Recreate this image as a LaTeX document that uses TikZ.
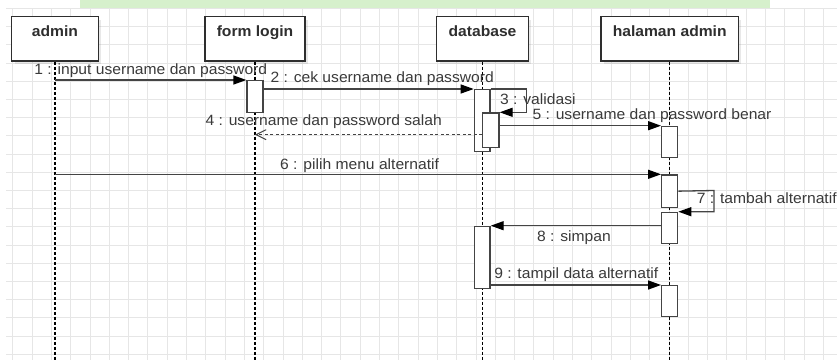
\documentclass[tikz,border=0pt]{standalone}
\usepackage{fontspec}
\setmainfont[FakeStretch=1.05]{Liberation Sans}
\usetikzlibrary{arrows.meta,shadows}
\definecolor{gridc}{HTML}{E6E6E6}
\definecolor{inkc}{HTML}{2E2E2E}
\definecolor{txtc}{HTML}{3A3A3A}
\definecolor{linec}{HTML}{444444}
\definecolor{wmark}{HTML}{D6F0CC}
\tikzset{
  actor/.style={draw=inkc, line width=1.4pt, fill=white, rectangle, inner sep=0pt,
    drop shadow={opacity=0.18, shadow xshift=3pt, shadow yshift=-3pt}},
  actorlabel/.style={anchor=base, text=inkc, font=\fontsize{14.9}{16}\selectfont\bfseries},
  act/.style={draw=linec, line width=1.3pt, fill=white, rectangle, inner sep=0pt,
    anchor=north, minimum width=16pt},
  lifeline/.style={draw=black, line width=1.1pt, dash pattern=on 3pt off 2pt},
  msg/.style={draw=linec, line width=1.3pt, -{Triangle[length=13pt,width=9pt,color=black]}},
  reply/.style={draw=linec, line width=1.2pt, dash pattern=on 3pt off 2.5pt,
    -{Straight Barb[length=10pt,width=10pt,line width=1pt]}},
  msglabel/.style={anchor=base, text=txtc, inner sep=0pt, font=\fontsize{14.9}{16}\selectfont},
}
\begin{document}
\begin{tikzpicture}[x=1pt,y=-1pt]
\useasboundingbox (0,0) rectangle (837,360);
\fill[white] (0,0) rectangle (837,360);
% pale green band along the top edge
\fill[wmark] (80,0) rectangle (770,8);
% background grid
\foreach \gx in {0,...,42} {
  \draw[gridc, line width=0.8pt] ({12.7+19.3*\gx},8) -- ({12.7+19.3*\gx},360);
}
\foreach \gy in {0,...,19} {
  \draw[gridc, line width=0.8pt] (6,{8.4+18.2*\gy}) -- (837,{8.4+18.2*\gy});
}
% participants
\node[actor, minimum width=86.6pt, minimum height=44.3pt] (admin) at (55,38.85) {};
\node[actor, minimum width=100pt, minimum height=44.3pt] (form) at (255,38.85) {};
\node[actor, minimum width=91.6pt, minimum height=44.3pt] (db) at (482.5,38.85) {};
\node[actor, minimum width=137.3pt, minimum height=44.3pt] (hal) at (669.7,38.85) {};
\node[actorlabel] (tadmin) at (55,36.7) {admin};
\node[actorlabel] (tform) at (255,36.7) {form login};
\node[actorlabel] (tdb) at (482.5,36.7) {database};
\node[actorlabel] (thal) at (669.7,36.7) {halaman admin};
% lifelines
\coordinate (bottom) at (0,360);
\draw[lifeline] (admin.south) -- (admin.south |- bottom);
\draw[lifeline] (form.south) -- (form.south |- bottom);
\draw[lifeline] (db.south) -- (db.south |- bottom);
\draw[lifeline] (hal.south) -- (hal.south |- bottom);
% activations
\node[act, minimum height=31.7pt] (a1) at (255,80) {};
\node[act, minimum height=61.7pt, minimum width=15.7pt] (a2) at (482.2,89) {};
\node[act, minimum height=34.4pt, minimum width=16.3pt] (a3) at (490.85,112.3) {};
\node[act, minimum height=31pt] (a4) at (669.7,125.7) {};
\node[act, minimum height=32.4pt] (a5) at (669.7,174.3) {};
\node[act, minimum height=31pt] (a6) at (669.7,211.7) {};
\node[act, minimum height=62pt, minimum width=15.7pt] (a7) at (482.2,225.7) {};
\node[act, minimum height=31pt] (a8) at (669.7,285) {};
% messages
\coordinate (c3) at (526.7,89);
\coordinate (m4) at (form.south |- 0,134.7);
\coordinate (c7) at (714,190.5);
\draw[msg] (admin.south |- a1.north) -- (a1.north west);
\draw[msg] (a1.east |- a2.north) -- (a2.north west);
\draw[msg] (a2.north east) -- (c3) |- (a3.north east);
\draw[reply] (a3.west |- m4) -- (m4);
\draw[msg] (a3.east |- a4.north) -- (a4.north west);
\draw[msg] (admin.south |- a5.north) -- (a5.north west);
\draw[msg] (a5.east) -- (c7) |- (a6.north east);
\draw[msg] (a6.west |- a7.north) -- (a7.north east);
\draw[msg] (a7.east |- a8.north) -- (a8.north west);
% message labels
\node[msglabel] (l1) at (150.8,74.3) {1 : input username dan password};
\node[msglabel] (l2) at (382.2,82.5) {2 : cek username dan password};
\node[msglabel, anchor=base west] (l3) at (500,104.3) {3 : validasi};
\node[msglabel] (l4) at (323.7,125.5) {4 : username dan password salah};
\node[msglabel] (l5) at (652,119) {5 : username dan password benar};
\node[msglabel, anchor=base west] (l6) at (280,169) {6 : pilih menu alternatif};
\node[msglabel, anchor=base west] (l7) at (696.7,203.3) {7 : tambah alternatif};
\node[msglabel] (l8) at (574,241) {8 : simpan};
\node[msglabel] (l9) at (576.3,278.3) {9 : tampil data alternatif};
\end{tikzpicture}
\end{document}
